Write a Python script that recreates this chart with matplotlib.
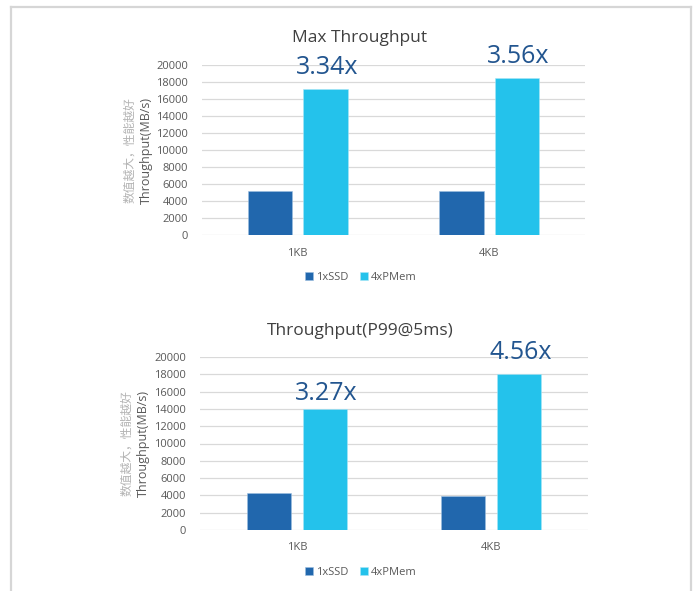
import numpy as np
import matplotlib.pyplot as plt
from matplotlib.lines import Line2D

plt.rcParams['font.family'] = ['Open Sans', 'Noto Sans CJK SC', 'DejaVu Sans']

# ----------------------------
# Data
# ----------------------------
categories = ["1KB", "4KB"]
series_names = ["1xSSD", "4xPMem"]

max_ssd = [5150, 5200]
max_pmem = [17200, 18500]
max_ratio = ["3.34x", "3.56x"]

p99_ssd = [4280, 3950]
p99_pmem = [14000, 18000]
p99_ratio = ["3.27x", "4.56x"]

yticks = np.arange(0, 20001, 2000)

ssd_color = "#2167ad"
pmem_color = "#24c2eb"
ratio_color = "#22558f"
text_gray = "#595959"

fig = plt.figure(figsize=(6.99, 5.91), dpi=100)

# light frame round the two charts
W, H = 699, 591
frame = dict(color="#d6d6d6", linewidth=1.6, transform=fig.transFigure)
fig.add_artist(Line2D([11 / W, 11 / W], [0, 1 - 7 / H], **frame))
fig.add_artist(Line2D([691 / W, 691 / W], [0, 1 - 7 / H], **frame))
fig.add_artist(Line2D([11 / W, 691 / W], [1 - 7 / H, 1 - 7 / H], **frame))


def bar_chart(rect, title, ssd, pmem, ratios, label_pad, title_y, legend_y):
    ax = fig.add_axes(rect)
    x = np.arange(len(categories))
    w = 0.23
    off = 0.145
    ax.bar(x - off, ssd, w, color=ssd_color, edgecolor="#9dbfe0", linewidth=0.4,
           label=series_names[0], zorder=3)
    ax.bar(x + off, pmem, w, color=pmem_color, edgecolor="#a8e6f7", linewidth=0.4,
           label=series_names[1], zorder=3)

    for i, r in enumerate(ratios):
        ax.annotate(r, (x[i] + off, pmem[i]), xytext=(1, label_pad[i]),
                    textcoords="offset points", ha="center", va="bottom",
                    fontsize=18, color=ratio_color)

    ax.set_xlim(-0.5, 1.5)
    ax.set_ylim(0, 20000)
    ax.set_yticks(yticks)
    ax.set_xticks(x)
    ax.set_xticklabels(categories)
    ax.tick_params(length=0, labelsize=8, colors=text_gray)
    ax.tick_params(axis="x", pad=9)
    ax.tick_params(axis="y", pad=10)
    ax.grid(axis="y", color="#d9d9d9", linewidth=0.9, zorder=0)
    for s in ax.spines.values():
        s.set_visible(False)

    fig.text(360 / W, 1 - title_y / H, title, ha="center", va="center",
             fontsize=12.5, color="#404040")

    ax.text(-0.145, 0.5, "Throughput(MB/s)", transform=ax.transAxes, rotation=90,
            ha="center", va="center", fontsize=9, color=text_gray)
    ax.text(-0.19, 0.5, "数值越大，性能越好", transform=ax.transAxes, rotation=90,
            ha="center", va="center", fontsize=8.5, color="#b3b3b3")

    ax.legend(loc="center", bbox_to_anchor=(0.415, legend_y), ncol=2, frameon=False,
              fontsize=8, handlelength=0.7, handleheight=0.7, handletextpad=0.3,
              columnspacing=1.0, labelcolor=text_gray)
    return ax


bar_chart([202 / W, 1 - 235 / H, 383 / W, 170 / H], "Max Throughput",
          max_ssd, max_pmem, max_ratio, [6, 6], 38, -0.25)

bar_chart([200 / W, 1 - 530 / H, 388 / W, 173 / H], "Throughput(P99@5ms)",
          p99_ssd, p99_pmem, p99_ratio, [2, 7], 331, -0.245)

plt.savefig("out.png", dpi=100)
plt.close()
